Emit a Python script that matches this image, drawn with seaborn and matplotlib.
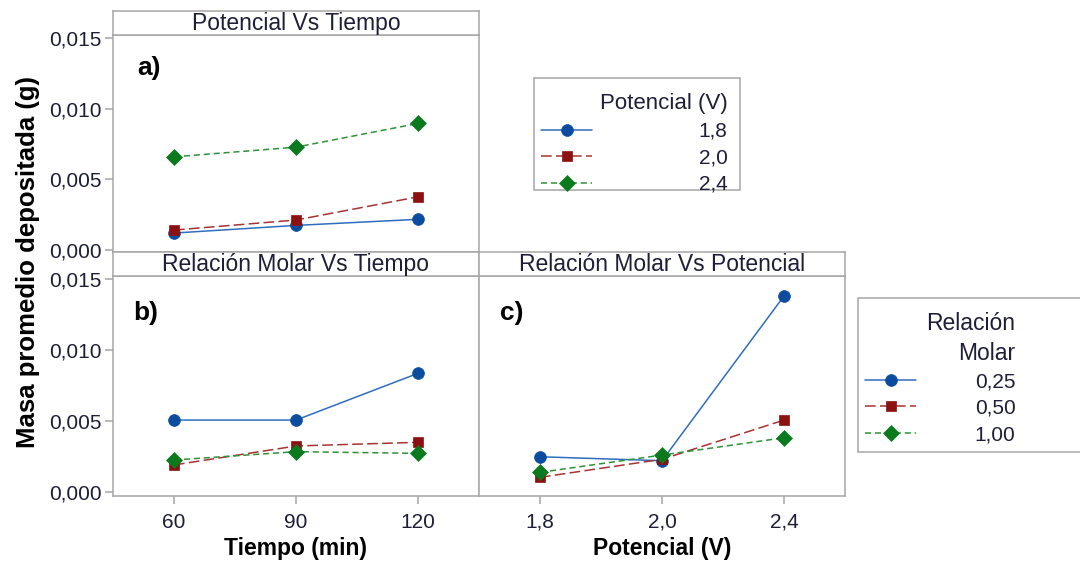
import numpy as np
import pandas as pd
import matplotlib
matplotlib.use("Agg")
import matplotlib.pyplot as plt
import matplotlib.patches as mpatches
import seaborn as sns

# ---------------- data ----------------
tiempo = ["60", "90", "120"]
potencial = ["1,8", "2,0", "2,4"]
relacion = ["0,25", "0,50", "1,00"]

# a) Potencial vs Tiempo (one series per potencial)
a_pot_18 = [0.00120, 0.00174, 0.00217]
a_pot_20 = [0.00141, 0.00212, 0.00376]
a_pot_24 = [0.00659, 0.00727, 0.00895]
# b) Relación molar vs Tiempo (one series per relación molar)
b_rel_025 = [0.00506, 0.00506, 0.00836]
b_rel_050 = [0.00189, 0.00323, 0.00349]
b_rel_100 = [0.00224, 0.00283, 0.00271]
# c) Relación molar vs Potencial
c_rel_025 = [0.00247, 0.00219, 0.01382]
c_rel_050 = [0.00102, 0.00229, 0.00506]
c_rel_100 = [0.00137, 0.00259, 0.00381]

ytick_vals = [0.0, 0.005, 0.010, 0.015]
ytick_labels = ["0,000", "0,005", "0,010", "0,015"]


def long_df(xcats, series, names, xname, hname):
    rows = []
    for name, vals in zip(names, series):
        for xc, v in zip(xcats, vals):
            rows.append({xname: xc, hname: name, "masa": v})
    return pd.DataFrame(rows)


df_a = long_df(tiempo, [a_pot_18, a_pot_20, a_pot_24], potencial, "x", "h")
df_b = long_df(tiempo, [b_rel_025, b_rel_050, b_rel_100], relacion, "x", "h")
df_c = long_df(potencial, [c_rel_025, c_rel_050, c_rel_100], relacion, "x", "h")

# ---------------- style ----------------
sns.set_style("white")
plt.rcParams["font.family"] = ["Liberation Sans", "DejaVu Sans"]

line_colors = ["#2F6DBE", "#A83232", "#2E9236"]
marker_colors = ["#0B4C9E", "#8C1212", "#0B7A1E"]
markers = ["o", "s", "D"]
msizes = [8.5, 7.5, 8.0]
linestyles = ["-", (0, (7, 2.8)), (0, (4, 2.5))]
spine_col = "#A6A6A6"
txt_col = "#1E1E38"

W, H = 1080, 562
fig = plt.figure(figsize=(W / 100, H / 100), dpi=100)


def px_axes(x0, y0, x1, y1):
    return fig.add_axes([x0 / W, (H - y1) / H, (x1 - x0) / W, (y1 - y0) / H])


ax_a = px_axes(113, 35, 479, 252)
ax_b = px_axes(113, 276, 479, 496)
ax_c = px_axes(479, 276, 845, 496)

strip_specs = [((113, 11, 479, 35), "Potencial Vs Tiempo"),
               ((113, 252, 479, 276), "Relación Molar Vs Tiempo"),
               ((479, 252, 845, 276), "Relación Molar Vs Potencial")]
for (x0, y0, x1, y1), title in strip_specs:
    s = px_axes(x0, y0, x1, y1)
    s.set_xticks([])
    s.set_yticks([])
    s.set_facecolor("white")
    for sp in s.spines.values():
        sp.set_color(spine_col)
        sp.set_linewidth(1.1)
    s.text(0.5, 0.48, title, ha="center", va="center", fontsize=16.5,
           color=txt_col, transform=s.transAxes)


def draw(ax, df, order, hue_order):
    sns.pointplot(data=df, x="x", y="masa", hue="h", order=order,
                  hue_order=hue_order, palette=line_colors, markers=markers,
                  linestyles=linestyles, errorbar=None, legend=False, ax=ax)
    for ln, mc, ms in zip(ax.lines, marker_colors, msizes):
        ln.set_linewidth(1.1)
        ln.set_markerfacecolor(mc)
        ln.set_markeredgecolor(mc)
        ln.set_markersize(ms)
        ln.set_markeredgewidth(0.5)
    ax.set_xlim(-0.5, 2.5)
    for sp in ax.spines.values():
        sp.set_visible(True)
        sp.set_color(spine_col)
        sp.set_linewidth(1.1)
    ax.set_xlabel("")
    ax.set_ylabel("")
    ax.tick_params(colors=spine_col, labelcolor=txt_col, labelsize=15,
                   length=6, width=1.1, pad=2, direction="out")


draw(ax_a, df_a, tiempo, potencial)
draw(ax_b, df_b, tiempo, relacion)
draw(ax_c, df_c, potencial, relacion)

ax_a.set_ylim(-0.00014, 0.0152)
ax_b.set_ylim(-0.0003, 0.01523)
ax_c.set_ylim(-0.0003, 0.01523)

for ax in (ax_a, ax_b):
    ax.set_yticks(ytick_vals)
    ax.set_yticklabels(ytick_labels)
    ax.tick_params(axis="y", left=True)
ax_c.set_yticks([])
ax_a.set_xticks([])
ax_a.tick_params(axis="x", bottom=False, labelbottom=False)
for ax in (ax_b, ax_c):
    ax.tick_params(axis="x", bottom=True, pad=6)

# x axis titles (bold), kept inside the canvas
fig.text(296 / W, 1.5 / H, "Tiempo (min)", ha="center", va="bottom",
         fontsize=16.5, fontweight="bold", color="black")
fig.text(662 / W, 1.5 / H, "Potencial (V)", ha="center", va="bottom",
         fontsize=16.5, fontweight="bold", color="black")

fig.text(28 / W, (H - 262) / H, "Masa promedio depositada (g)", rotation=90,
         ha="center", va="center", fontsize=18.5, fontweight="bold",
         color="black")

for ax, lab, (fx, fy) in [(ax_a, "a)", (0.066, 0.85)),
                          (ax_b, "b)", (0.055, 0.83)),
                          (ax_c, "c)", (0.057, 0.83))]:
    ax.text(fx, fy, lab, transform=ax.transAxes, fontsize=19,
            fontweight="bold", color="black", ha="left", va="center")

# ---------------- legends ----------------
# frames (legend boxes)
for (x0, y0, x1, y1) in [(534, 78, 740, 190), (858, 298, 1090, 452)]:
    fig.patches.append(mpatches.Rectangle(
        (x0 / W, (H - y1) / H), (x1 - x0) / W, (y1 - y0) / H,
        transform=fig.transFigure, facecolor="white", edgecolor=spine_col,
        linewidth=1.1, zorder=0))

leg1 = fig.legend(handles=list(ax_a.lines[:3]), labels=potencial,
                  title="Potencial (V)", loc="upper left",
                  bbox_to_anchor=(534 / W, (H - 86) / H), borderaxespad=0,
                  fontsize=15, title_fontsize=16, frameon=False,
                  handlelength=2.45, handletextpad=5.1, borderpad=0.35,
                  labelspacing=0.36, alignment="right", labelcolor=txt_col)
leg1.get_title().set_color(txt_col)

leg2 = fig.legend(handles=list(ax_b.lines[:3]), labels=relacion,
                  title="Relación\nMolar", loc="upper left",
                  bbox_to_anchor=(858 / W, (H - 305) / H), borderaxespad=0,
                  fontsize=15, title_fontsize=16.5, frameon=False,
                  handlelength=2.45, handletextpad=2.8, borderpad=0.35,
                  labelspacing=0.36, alignment="right", labelcolor=txt_col)
leg2.get_title().set_color(txt_col)
leg2.get_title().set_multialignment("right")
leg2.get_title().set_linespacing(1.35)

fig.savefig("out.png", dpi=100, facecolor="white")
